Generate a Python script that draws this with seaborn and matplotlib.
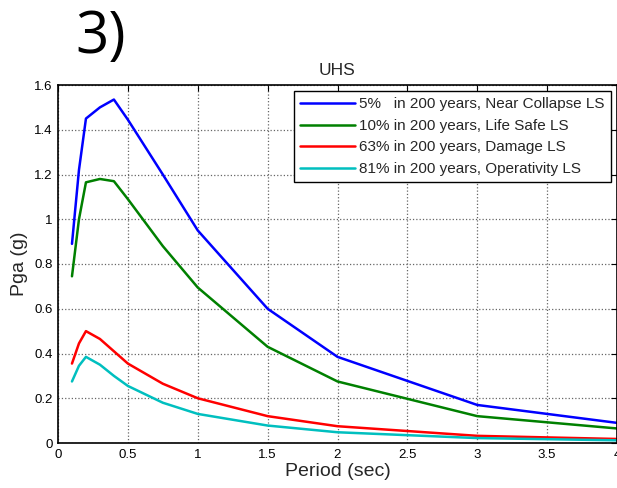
import matplotlib
matplotlib.use("Agg")
import matplotlib.pyplot as plt
import seaborn as sns
import pandas as pd
from matplotlib.ticker import FuncFormatter

periods = [0.1, 0.15, 0.2, 0.3, 0.4, 0.5, 0.75, 1.0, 1.5, 2.0, 3.0, 4.0]
pga_nc = [0.89, 1.22, 1.45, 1.50, 1.535, 1.445, 1.20, 0.95, 0.60, 0.385, 0.17, 0.09]
pga_ls = [0.745, 1.00, 1.165, 1.18, 1.17, 1.09, 0.88, 0.695, 0.43, 0.275, 0.12, 0.065]
pga_dl = [0.355, 0.445, 0.50, 0.465, 0.41, 0.355, 0.265, 0.20, 0.12, 0.075, 0.032, 0.018]
pga_op = [0.275, 0.345, 0.385, 0.35, 0.30, 0.255, 0.18, 0.13, 0.078, 0.048, 0.022, 0.012]
labels = ["5%   in 200 years, Near Collapse LS",
          "10% in 200 years, Life Safe LS",
          "63% in 200 years, Damage LS",
          "81% in 200 years, Operativity LS"]
colors = ["#0000ff", "#008000", "#ff0000", "#00bfbf"]

rows = []
for lab, vals in zip(labels, [pga_nc, pga_ls, pga_dl, pga_op]):
    for p, v in zip(periods, vals):
        rows.append({"Period": p, "Pga": v, "Level": lab})
df = pd.DataFrame(rows)

sns.set_theme(style="white")
plt.rcParams['font.family'] = ['Liberation Sans', 'DejaVu Sans']

fig = plt.figure(figsize=(6.17, 4.88), dpi=100)
ax = fig.add_axes([58/617, 1-443/488, (617-58)/617, (443-85)/488])

sns.lineplot(data=df, x="Period", y="Pga", hue="Level", palette=colors,
             hue_order=labels, linewidth=1.8, ax=ax, sort=False, legend=True)

ax.set_xlim(0, 4)
ax.set_ylim(0, 1.6)
ax.set_xticks([0, 0.5, 1, 1.5, 2, 2.5, 3, 3.5, 4])
ax.set_yticks([0, 0.2, 0.4, 0.6, 0.8, 1.0, 1.2, 1.4, 1.6])
fmt = FuncFormatter(lambda v, p: "%g" % v)
ax.xaxis.set_major_formatter(fmt)
ax.yaxis.set_major_formatter(fmt)
ax.tick_params(direction="in", length=4, width=0.8, top=True, right=True,
               labelsize=9.5, colors="black", pad=4)
ax.grid(True, linestyle=":", color="#666666", linewidth=0.9)
for s in ax.spines.values():
    s.set_color("black")
    s.set_linewidth(1.2)
    s.set_visible(True)

ax.set_xlabel("Period (sec)", fontsize=14, labelpad=2)
ax.set_ylabel("Pga (g)", fontsize=14, labelpad=4)
ax.set_title("UHS", fontsize=12.5, pad=7)

leg = ax.legend(loc="upper right", fontsize=11, frameon=True, fancybox=False,
                edgecolor="black", framealpha=1, handlelength=3.6,
                handletextpad=0.3, borderpad=0.4, labelspacing=0.5,
                borderaxespad=0.4)
leg.get_frame().set_linewidth(1.0)

fig.text(75/617, 1-53/488, "3)", fontsize=42, family=["Open Sans", "DejaVu Sans"],
         color="black", ha="left", va="baseline")

fig.savefig("out.png", dpi=100, facecolor="white")
